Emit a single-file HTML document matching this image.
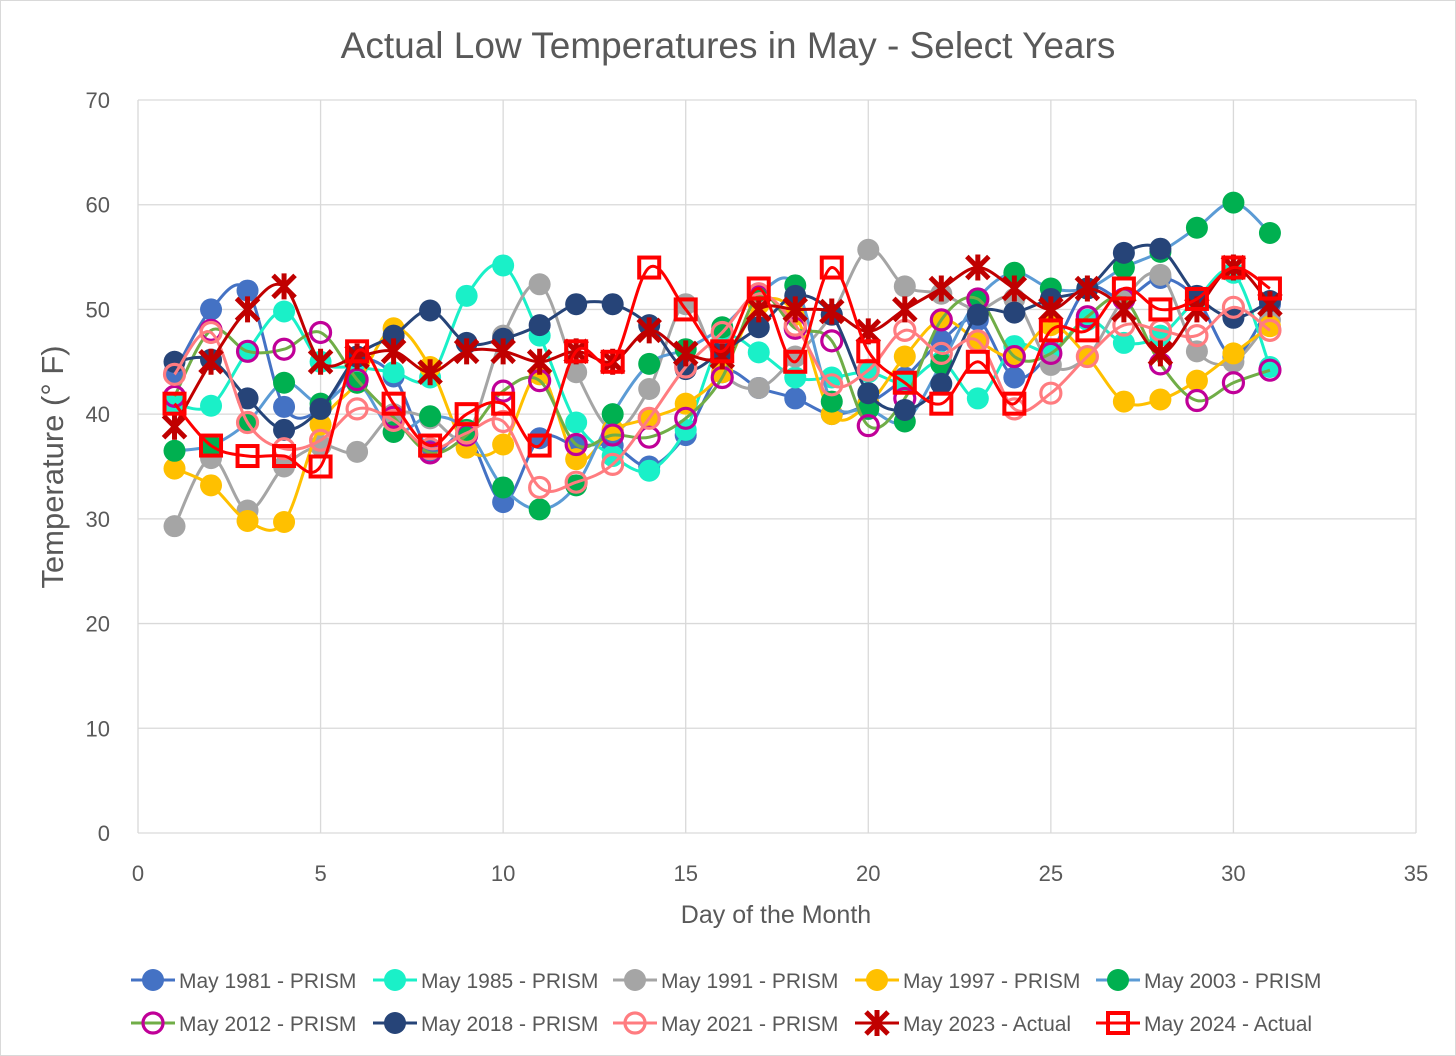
<!DOCTYPE html>
<html><head><meta charset="utf-8"><style>
body{margin:0;background:#fff}
svg{display:block;font-family:"Liberation Sans",Arial,sans-serif}
</style></head><body>
<svg id="c" width="1456" height="1056">
<rect x="0.5" y="0.5" width="1455" height="1055" fill="#fff" stroke="#d9d9d9"/>
<text x="728" y="58" text-anchor="middle" font-size="37" fill="#595959">Actual Low Temperatures in May - Select Years</text>
<g id="grid"></g><g id="series"></g><g id="legend"></g>
<text x="776" y="923" text-anchor="middle" font-size="25" fill="#595959">Day of the Month</text>
<text transform="translate(63,467) rotate(-90)" text-anchor="middle" font-size="31" fill="#595959">Temperature (° F)</text>
</svg>
<script>
const days=[1,2,3,4,5,6,7,8,9,10,11,12,13,14,15,16,17,18,19,20,21,22,23,24,25,26,27,28,29,30,31];
const xTicks=[0,5,10,15,20,25,30,35];
const yTicks=[0,10,20,30,40,50,60,70];
const seriesNames=["May 1981 - PRISM","May 1985 - PRISM","May 1991 - PRISM","May 1997 - PRISM","May 2003 - PRISM","May 2012 - PRISM","May 2018 - PRISM","May 2021 - PRISM","May 2023 - Actual","May 2024 - Actual"];
const v1981=[44,50,51.8,40.7,40.5,45,43.6,36.5,38,31.6,37.7,37,37,35,38,44,42.5,41.5,40,41,43.5,47,49,43.5,46,52,51,53,51,45.5,50.5];
const v1985=[41,40.8,46,49.8,45,44.5,44,43.5,51.3,54.2,47.5,39.2,36,34.6,38.5,47,45.9,43.5,43.5,44,43,45,41.5,46.5,46,49,46.8,47.5,51,53.5,44.5];
const v1991=[29.3,35.8,30.8,35,37,36.4,40,39.6,38,47.5,52.4,44,38.5,42.4,50.5,44,42.5,45.5,49.5,55.7,52.2,51.5,50,51,44.7,45.5,51,53.3,46,45,49];
const v1997=[34.8,33.2,29.8,29.7,39,43,48.2,44.5,36.8,37.1,43.8,35.7,38.5,39.6,41,44,50.5,49.5,40,41,45.5,49,47,45.5,48.5,45.5,41.2,41.4,43.2,45.8,48.4];
const v2003=[36.5,37,39.2,43,41,43,38.3,39.8,38.5,33,30.9,33.2,40,44.8,46.2,48.3,51.5,52.3,41.2,40.5,39.3,44.8,51,53.5,52,52,54,55.5,57.8,60.2,57.3];
const v2012=[41.7,48,46,46.2,47.8,43.3,39.7,36.3,38,42.2,43.2,37.1,38,37.8,39.6,43.5,51.3,48.2,47,38.9,41.5,49,51,45.5,45.8,49.3,51,44.8,41.3,43,44.2];
const v2018=[45,45.2,41.5,38.5,40.5,45.5,47.5,49.9,46.8,47.2,48.5,50.5,50.5,48.5,44.3,46,48.3,51.3,49.5,42,40.4,42.9,49.5,49.7,51,52,55.4,55.8,51.3,49.2,50.8];
const v2021=[43.8,47.8,39.2,36.7,37.5,40.5,39.4,36.7,38.2,39.3,33,33.5,35.2,39.6,44.5,47.8,51.5,48.5,42.8,44.2,48,45.8,47,40.5,42,45.5,48.5,48,47.5,50.2,48];
const v2023=[38.8,45,50,52.2,45,45.5,46,44,46,46,45,46,45,48,45.8,45.5,50,50,49.8,47.9,50,52,54,52,50,52,50,45.8,50,54,50.5];
const v2024=[41,37,36,36,35,46,41,37,40,41,37,46,45,54,50,46,52,45,54,46,43,41,45,41,48,48,52,50,51,54,52];
const allValues=[v1981,v1985,v1991,v1997,v2003,v2012,v2018,v2021,v2023,v2024];
const styles=[
 {line:"#4472C4",m:"dot",fill:"#4472C4"},
 {line:"#1AF0C8",m:"dot",fill:"#1AF0C8"},
 {line:"#A5A5A5",m:"dot",fill:"#A5A5A5"},
 {line:"#FFC000",m:"dot",fill:"#FFC000"},
 {line:"#5B9BD5",m:"dot",fill:"#00B050"},
 {line:"#70AD47",m:"ring",fill:"#C00098"},
 {line:"#264478",m:"dot",fill:"#264478"},
 {line:"#FF7C80",m:"ring",fill:"#FF7C80"},
 {line:"#C00000",m:"x",fill:"#C00000"},
 {line:"#FF0000",m:"sq",fill:"#FF0000"}];
const X0=138,X1=1416,Y0=833,Y1=100;
const xs=d=>X0+(X1-X0)*d/35, ys=v=>Y0-(Y0-Y1)*v/70;
const NS="http://www.w3.org/2000/svg";
function mk(t,a,p){const e=document.createElementNS(NS,t);for(const k in a)e.setAttribute(k,a[k]);p.appendChild(e);return e;}
const grid=document.getElementById('grid');
yTicks.forEach(t=>{
 const l=mk('line',{x1:X0,x2:X1,y1:ys(t),y2:ys(t),stroke:"#d9d9d9","stroke-width":1.3},grid);
 
 
 const tx=mk('text',{x:110,y:ys(t)+8,"text-anchor":"end","font-size":22,fill:"#595959"},grid);tx.textContent=t;
 
 
});
xTicks.forEach(t=>{
 const l=mk('line',{x1:xs(t),x2:xs(t),y1:Y1,y2:Y0,stroke:"#d9d9d9","stroke-width":1.3},grid);
 
 
 const tx=mk('text',{x:xs(t),y:881,"text-anchor":"middle","font-size":22,fill:"#595959"},grid);tx.textContent=t;
 
 
});
function smooth(pts){let d=`M${pts[0][0]},${pts[0][1]}`;for(let i=0;i<pts.length-1;i++){const p0=pts[i-1]||pts[i],p1=pts[i],p2=pts[i+1],p3=pts[i+2]||p2;const t=0.5/3;
d+=` C${p1[0]+(p2[0]-p0[0])*t},${p1[1]+(p2[1]-p0[1])*t} ${p2[0]-(p3[0]-p1[0])*t},${p2[1]-(p3[1]-p1[1])*t} ${p2[0]},${p2[1]}`;}return d;}
function marker(g,s,x,y){
 let e;
 if(s.m==="dot"){e=mk('circle',{cx:x,cy:y,r:11,fill:s.fill},g);}
 else if(s.m==="ring"){e=mk('circle',{cx:x,cy:y,r:10,fill:"none",stroke:s.fill,"stroke-width":3.2},g);}
 else if(s.m==="x"){e=mk('path',{d:`M${x-11},${y-11}L${x+11},${y+11}M${x+11},${y-11}L${x-11},${y+11}M${x},${y-13}L${x},${y+13}`,stroke:s.fill,"stroke-width":5,fill:"none"},g);}
 else {e=mk('rect',{x:x-10,y:y-10,width:20,height:20,fill:"none",stroke:s.fill,"stroke-width":4},g);}
 return e;
}
const sg=document.getElementById('series');
allValues.forEach((vals,i)=>{
 const s=styles[i];
 const g=mk('g',{},sg);
 
 
 const pts=vals.map((v,j)=>[xs(days[j]),ys(v)]);
 const p=mk('path',{d:smooth(pts),fill:"none",stroke:s.line,"stroke-width":3},g);
 
 
 pts.forEach(q=>{const m=marker(g,s,q[0],q[1]);
  
  });
});
const lg=document.getElementById('legend');
const colX=[131,373,613,855,1096],rowY=[980,1023];
seriesNames.forEach((n,i)=>{
 const x=colX[i%5],y=rowY[Math.floor(i/5)],s=styles[i];
 const g=mk('g',{},lg);
 
 
 mk('line',{x1:x,x2:x+44,y1:y,y2:y,stroke:s.line,"stroke-width":3},g);
 marker(g,s,x+22,y);
 const t=mk('text',{x:x+48,y:y+8,"font-size":21,fill:"#595959"},g);t.textContent=n;
});
</script>
</body></html>
